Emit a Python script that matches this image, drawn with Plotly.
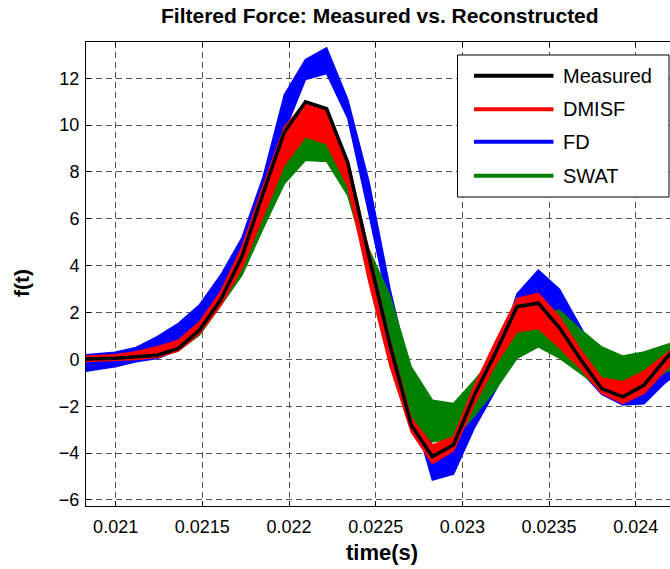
import plotly.graph_objects as go

# ---- data ----
times = [0.020752, 0.020874, 0.020996, 0.021118, 0.021240, 0.021362, 0.021484, 0.021606,
         0.021729, 0.021851, 0.021973, 0.022095, 0.022217, 0.022339, 0.022461, 0.022583,
         0.022705, 0.022827, 0.022949, 0.023071, 0.023193, 0.023315, 0.023438, 0.023560,
         0.023682, 0.023804, 0.023926, 0.024048, 0.024170, 0.024292]

measured = [0.0, 0.02, 0.05, 0.11, 0.18, 0.47, 1.25, 2.55, 4.4, 7.1, 9.7, 11.0, 10.7, 8.4, 4.4,
            0.6, -2.8, -4.15, -3.65, -1.5, 0.3, 2.25, 2.4, 1.35, 0.0, -1.25, -1.6, -1.1, 0.0, 1.0]

dmisf_hi = [0.1, 0.15, 0.2, 0.33, 0.54, 0.82, 1.6, 2.9, 4.8, 7.4, 9.9, 11.0, 10.7, 8.5, 4.6,
            0.8, -2.5, -3.65, -3.3, -1.1, 0.8, 2.6, 2.82, 1.82, 0.4, -0.8, -0.95, -0.5, 0.2, 1.0]
dmisf_lo = [-0.1, -0.08, -0.05, 0.0, 0.08, 0.35, 1.1, 2.3, 3.9, 6.1, 8.3, 9.5, 9.2, 7.4, 3.3,
            -0.3, -3.1, -4.45, -3.9, -1.9, -0.2, 1.18, 1.32, 0.5, -0.4, -1.45, -1.88, -1.45, -0.46, 0.5]

swat_hi = [0.02, 0.04, 0.07, 0.12, 0.2, 0.5, 1.3, 2.5, 4.1, 6.5, 8.4, 9.6, 9.3, 7.6, 4.7,
           2.7, -0.32, -1.74, -1.88, -0.88, 0.2, 1.6, 2.0, 2.1, 1.27, 0.53, 0.14, 0.32, 0.6, 0.9]
swat_lo = [-0.02, 0.0, 0.02, 0.06, 0.1, 0.38, 1.04, 2.3, 3.6, 5.6, 7.5, 8.5, 8.45, 7.0, 3.9,
           0.4, -2.6, -3.52, -3.4, -2.4, -1.27, 0.04, 0.54, 0.05, -0.6, -1.3, -1.74, -1.17, -0.55, -0.1]

fd_hi = [0.15, 0.22, 0.30, 0.51, 0.97, 1.54, 2.33, 3.6, 5.2, 7.8, 11.3, 12.8, 13.3, 11.1, 7.6,
         3.0, -0.8, -3.7, -3.6, -2.2, 0.0, 2.8, 3.81, 3.0, 1.39, -0.3, -0.5, -0.3, 0.1, 0.7]
fd_lo = [-0.6, -0.45, -0.31, -0.1, 0.04, 0.4, 1.2, 2.4, 4.2, 6.9, 9.7, 11.95, 12.2, 10.3, 6.2,
         2.0, -2.0, -5.15, -4.9, -2.9, -1.3, 0.5, 1.0, 0.5, -0.5, -1.5, -1.95, -1.9, -1.0, -0.3]

x_tickvals = [0.021, 0.0215, 0.022, 0.0225, 0.023, 0.0235, 0.024]
x_ticktext = ["0.021", "0.0215", "0.022", "0.0225", "0.023", "0.0235", "0.024"]
y_tickvals = [-6, -4, -2, 0, 2, 4, 6, 8, 10, 12]

legend_names = ["Measured", "DMISF", "FD", "SWAT"]
legend_colors = ["#000000", "#FF0000", "#0000FF", "#008000"]

FONT = "Liberation Sans, Arial, Helvetica, sans-serif"

# ---- layout geometry (pixels) ----
W, H = 670, 569
L, T, R, B = 86, 42, 670, 506


def px(xp):
    return (xp - L) / (R - L)


def py(yp):
    return (B - yp) / (B - T)


fig = go.Figure()


def band(hi, lo, color):
    fig.add_trace(go.Scatter(
        x=times + times[::-1], y=hi + lo[::-1],
        mode="lines", fill="toself", fillcolor=color,
        line=dict(color=color, width=1.5),
        hoverinfo="skip", showlegend=False))


band(fd_hi, fd_lo, "#0000FF")
band(swat_hi, swat_lo, "#008000")
band(dmisf_hi, dmisf_lo, "#FF0000")

fig.add_trace(go.Scatter(x=times, y=measured, mode="lines",
                         line=dict(color="#000000", width=3.5),
                         showlegend=False))

# ---- custom legend (MATLAB style) ----
shapes = [dict(type="rect", xref="paper", yref="paper",
               x0=px(457.5), x1=px(669), y0=py(197), y1=py(55),
               line=dict(color="black", width=1), fillcolor="white", layer="above")]
annotations = []
row_y = [75.7, 109.3, 141.7, 175.7]
for name, col, ry in zip(legend_names, legend_colors, row_y):
    shapes.append(dict(type="line", xref="paper", yref="paper",
                       x0=px(474), x1=px(553.5), y0=py(ry), y1=py(ry),
                       line=dict(color=col, width=4), layer="above"))
    annotations.append(dict(xref="paper", yref="paper", x=px(561), y=py(ry),
                            xanchor="left", yanchor="middle", showarrow=False,
                            text=name, font=dict(family=FONT, size=20, color="black")))

# title and axis titles
annotations.append(dict(xref="paper", yref="paper", x=px(380), y=py(16),
                        xanchor="center", yanchor="middle", showarrow=False,
                        text="<b>Filtered Force: Measured vs. Reconstructed</b>",
                        font=dict(family=FONT, size=21, color="black")))
annotations.append(dict(xref="paper", yref="paper", x=px(382), y=py(552),
                        xanchor="center", yanchor="middle", showarrow=False,
                        text="<b>time(s)</b>",
                        font=dict(family=FONT, size=22, color="black")))
annotations.append(dict(xref="paper", yref="paper", x=px(21), y=py(283),
                        xanchor="center", yanchor="middle", showarrow=False,
                        text="<b>f(t)</b>", textangle=-90,
                        font=dict(family=FONT, size=21, color="black")))

fig.update_layout(
    width=W, height=H,
    margin=dict(l=L, r=W - R, t=T, b=H - B, pad=0),
    paper_bgcolor="white", plot_bgcolor="white",
    showlegend=False,
    shapes=shapes, annotations=annotations,
    font=dict(family=FONT, size=18, color="black"),
)

fig.update_xaxes(
    range=[0.020829, 0.0241977],
    tickvals=x_tickvals, ticktext=x_ticktext,
    ticks="inside", ticklen=5, tickcolor="black", tickwidth=1,
    showline=True, linecolor="black", linewidth=1, mirror="ticks",
    showgrid=True, gridcolor="#555555", gridwidth=1, griddash="6px,4px",
    zeroline=False, tickfont=dict(family=FONT, size=18, color="black"),
    ticklabelstandoff=4,
)
fig.update_yaxes(
    range=[-6.26, 13.55],
    tickvals=y_tickvals,
    ticks="inside", ticklen=5, tickcolor="black", tickwidth=1,
    showline=True, linecolor="black", linewidth=1, mirror=False,
    showgrid=True, gridcolor="#555555", gridwidth=1, griddash="6px,4px",
    zeroline=False, tickfont=dict(family=FONT, size=18, color="black"),
    ticklabelstandoff=2,
)

fig.write_html("out.html", config={"displayModeBar": False},
               post_script="document.body.style.margin='0';document.body.style.overflow='hidden';")
